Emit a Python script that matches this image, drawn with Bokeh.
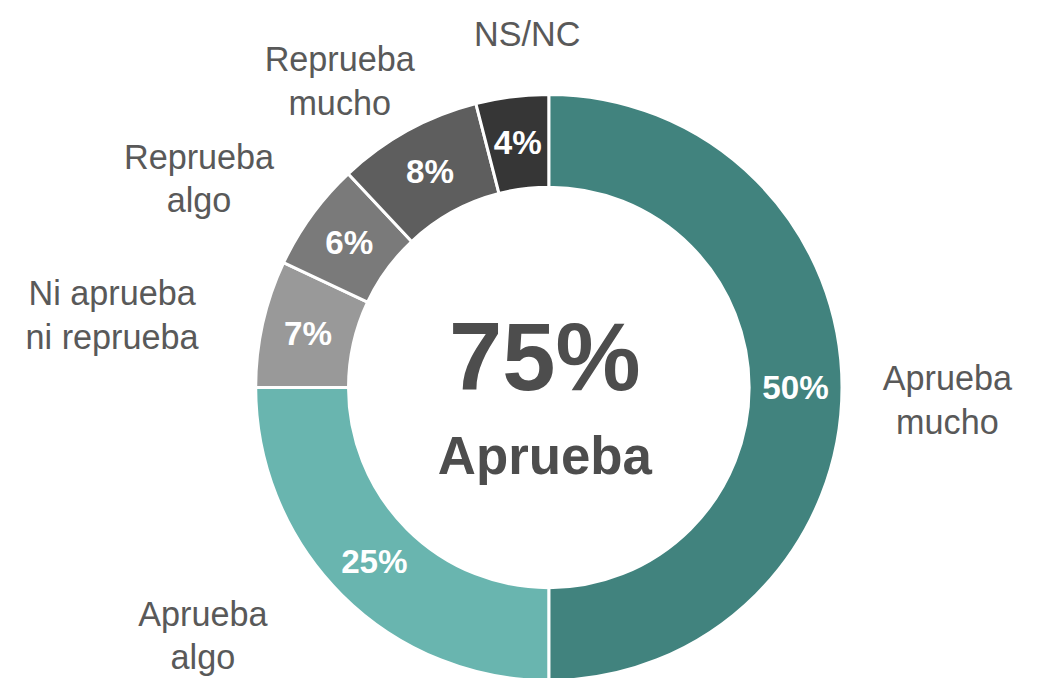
import math
from bokeh.plotting import figure
from bokeh.models import Range1d, ColumnDataSource
from bokeh.core.properties import value
from bokeh.embed import file_html
from bokeh.resources import INLINE

# ---- data ----
categories = ["Aprueba\nmucho", "Aprueba\nalgo", "Ni aprueba\nni reprueba",
              "Reprueba\nalgo", "Reprueba\nmucho", "NS/NC"]
values = [50, 25, 7, 6, 8, 4]
colors = ["#41837E", "#69B5AF", "#999999", "#7A7A7A", "#5E5E5E", "#363636"]
center_value = "75%"
center_label = "Aprueba"

# ---- layout ----
W, H = 1024, 678
REF_W, REF_H = 1040, 694
s = H / REF_H                      # pixel per data unit
offx, offy = 9, 4                  # pixel offset of content
cx, cy = 552, REF_H - 392
r_out, r_in = 300, 205
FONT = "Liberation Sans"


def fs(px):
    return f"{px * s:.1f}px"


total = sum(values)
starts, ends, mids = [], [], []
a = math.pi / 2
for v in values:
    span = 2 * math.pi * v / total
    starts.append(a - span)
    ends.append(a)
    mids.append(a - span / 2)
    a -= span

src = ColumnDataSource(dict(start=starts, end=ends, color=colors))

p = figure(width=W, height=H,
           x_range=Range1d(-offx / s, (W - offx) / s),
           y_range=Range1d(REF_H - (H - offy) / s, REF_H + offy / s),
           output_backend="svg", toolbar_location=None, min_border=0)
p.axis.visible = False
p.grid.visible = False
p.outline_line_color = None
p.background_fill_color = "white"

p.annular_wedge(x=cx, y=cy, inner_radius=r_in, outer_radius=r_out,
                start_angle="start", end_angle="end", fill_color="color",
                line_color="white", line_width=3, source=src)

# data labels at mid-angle
r_mid = (r_in + r_out) / 2
lx = [cx + r_mid * math.cos(m) for m in mids]
ly = [cy + r_mid * math.sin(m) for m in mids]
p.text(x=lx, y=ly, text=[f"{v}%" for v in values], text_align="center",
       text_baseline="middle", text_color="white", text_font=value(FONT),
       text_font_style="bold", text_font_size=fs(34))

# category labels outside
cat_pos = [(960, 405), (198, 646), (105, 318), (194, 178), (338, 78), (530, 30)]
p.text(x=[c[0] for c in cat_pos], y=[REF_H - c[1] for c in cat_pos], text=categories,
       text_align="center", text_baseline="middle", text_color="#595959",
       text_font=value(FONT), text_font_size=fs(35), text_line_height=1.15)

# center text
p.text(x=[cx - 4], y=[REF_H - 360], text=[center_value], text_align="center",
       text_baseline="middle", text_color="#4D4D4D", text_font=value(FONT),
       text_font_style="bold", text_font_size=fs(98))
p.text(x=[cx - 4], y=[REF_H - 462], text=[center_label], text_align="center",
       text_baseline="middle", text_color="#4D4D4D", text_font=value(FONT),
       text_font_style="bold", text_font_size=fs(54))

open("out.html", "w").write(file_html(p, INLINE))
